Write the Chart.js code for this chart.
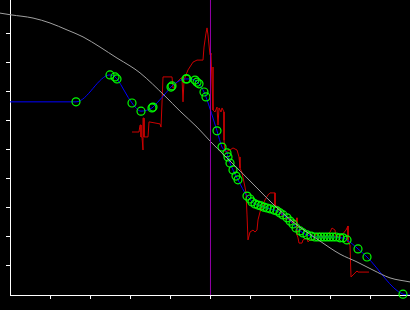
<!DOCTYPE html>
<html>
<head>
<meta charset="utf-8">
<script src="https://cdn.jsdelivr.net/npm/chart.js@4"></script>
<style>
  html, body { margin: 0; padding: 0; background: #000; }
  #wrap { width: 410px; height: 310px; background: #000; }
</style>
</head>
<body>
<div id="wrap"><canvas id="chart" width="410" height="310"></canvas></div>
<script>
// ─── Data ─────────────────────────────────────────────────────────────────────
// axis range: x 0..100, y 0..100 (top of plot a little above 100)
const X_MIN = 0, X_MAX = 100, Y_MIN = 0, Y_TOP = 101.72;
const TICK_STEP = 10;

// marker line (vertical)
const markX = 50.12;

// smooth reference curve (grey)
const grayX = [-2.5, 0.25, 5.75, 10, 14.25, 18.25, 22.5, 26.75, 30, 32.5, 38.75, 42.5, 46.75, 50,
  53.75, 57.5, 61.75, 66.25, 70.75, 77.5, 82.5, 86.75, 90.75, 95, 100];
const grayY = [97.2, 96.6, 95.5, 93.8, 91.4, 89.0, 85.5, 81.7, 79.0, 76.6, 68.6, 63.4, 57.9, 53.1,
  47.9, 42.8, 36.9, 30.7, 25.2, 18.6, 14.1, 11.4, 8.6, 5.9, 4.5];

// raw measurement (red)
const redX = [30.5, 32.25, 32.5, 32.75, 32.75, 33, 33.25, 33.25, 33.5, 33.5, 34.5, 34.75, 37.5, 37.75,
  38, 38.25, 40.5, 40.75, 41.25, 41.5, 42.75, 43, 43.25, 43.5, 44, 44.5, 45.75, 46.75, 48.25, 48.5,
  48.75, 49, 49.25, 49.5, 49.75, 50, 50.25, 50.5, 50.75, 50.75, 51.25, 51.75, 52, 52.25, 52.75, 53,
  53.5, 53.5, 53.75, 55, 55.75, 56.75, 57.25, 57.5, 58, 58.75, 59, 59.25, 59.5, 60, 60.75, 61.25,
  61.75, 62, 62.5, 63, 63.75, 64.5, 65, 66.25, 66.25, 67.25, 68.25, 69.25, 69.5, 70.5, 71, 71.5,
  71.75, 71.75, 72, 72.25, 73, 73.25, 74.25, 74.5, 75, 76, 76.25, 77.5, 78, 78.75, 80, 80.5, 81.25,
  81.5, 83, 84, 84.5, 84.5, 85, 85.25, 85.75, 86.75, 87, 89.75];
const redY = [56.2, 56.2, 58.6, 58.6, 54.5, 54.5, 50.0, 61.0, 61.0, 54.5, 54.5, 59.7, 59.0, 57.9,
  66.2, 75.2, 75.2, 71.4, 71.4, 73.1, 74.8, 74.8, 66.6, 74.1, 75.9, 77.6, 80.3, 81.0, 81.0, 85.5,
  87.9, 90.3, 92.1, 89.7, 86.2, 82.8, 83.4, 73.1, 78.6, 63.8, 63.1, 64.8, 58.6, 64.5, 63.1, 64.5,
  63.1, 53.4, 49.3, 50.0, 50.7, 50.0, 47.6, 43.8, 42.1, 37.2, 35.2, 27.6, 19.0, 21.7, 22.4, 21.7,
  22.4, 25.9, 28.6, 30.3, 32.8, 34.5, 35.2, 35.2, 31.0, 30.0, 26.6, 25.9, 26.9, 24.8, 25.9, 25.2,
  26.6, 20.7, 19.7, 17.9, 17.9, 19.0, 19.7, 18.3, 19.0, 19.0, 20.7, 21.4, 20.0, 20.0, 21.7, 23.1, 22.4,
  20.0, 20.7, 22.4, 23.8, 18.3, 17.2, 6.2, 6.9, 8.3, 7.9, 7.9];

// fitted points (circles) and the blue line through them
const fitX = [16.5, 25, 26.25, 26.75, 30.5, 32.75, 35.5, 35.75, 40.25, 40.5, 44, 44.25, 46.25, 46.75,
  47.25, 48.5, 49, 51.75, 53, 54.25, 54.5, 55, 55.75, 56.5, 57, 59.25, 60, 60.5, 61.25, 62, 62.75,
  63.5, 64.25, 65, 66, 66.75, 67.5, 68.25, 69.25, 70, 70.75, 71.5, 72.5, 73.25, 74.25, 75.25, 76.25,
  77, 77.75, 78.5, 79.25, 80, 80.75, 81.5, 82.5, 83.25, 84.25, 87, 89.25, 98.25];
const fitY = [66.6, 75.9, 75.2, 74.5, 66.2, 63.4, 64.5, 64.8, 71.7, 72.1, 74.5, 74.5, 74.1, 73.4,
  72.8, 70.0, 68.3, 56.6, 51.0, 49.0, 47.6, 45.5, 43.1, 41.0, 39.7, 34.1, 33.1, 32.1, 31.4, 31.0, 30.7,
  30.3, 30.0, 29.7, 29.3, 29.0, 28.3, 27.6, 26.6, 25.5, 24.5, 23.1, 22.1, 21.4, 20.7, 20.3, 20.0,
  20.0, 20.0, 20.0, 20.0, 20.0, 20.0, 20.0, 19.7, 19.7, 19.0, 15.9, 13.1, 0.3];
const leadX = [0], leadY = [66.6];
const tailX = [100], tailY = [0];

// ─── Helpers ──────────────────────────────────────────────────────────────────
const pts = (xs, ys) => xs.map((x, i) => ({ x, y: ys[i] }));
const innerTicks = (lo, hi) => scale => {
  scale.ticks = scale.ticks.filter(t => t.value > lo && t.value < hi);
};
const axis = (min, max, lo, hi) => ({
  type: 'linear', min, max,
  ticks: { display: false, stepSize: TICK_STEP },
  grid: { drawOnChartArea: false, color: '#ffffff', tickLength: 4, lineWidth: 1 },
  border: { display: true, color: '#ffffff', width: 1 },
  afterBuildTicks: innerTicks(lo, hi)
});

// ─── Chart ────────────────────────────────────────────────────────────────────
new Chart(document.getElementById('chart'), {
  type: 'scatter',
  data: {
    datasets: [
      {
        data: pts([markX, markX], [Y_MIN, Y_TOP]),
        showLine: true, borderColor: '#9400a8', borderWidth: 1, pointRadius: 0, clip: false
      },
      {
        data: pts(grayX, grayY),
        showLine: true, borderColor: '#a0a0a0', borderWidth: 1, pointRadius: 0,
        cubicInterpolationMode: 'monotone', clip: false
      },
      {
        data: pts(fitX, fitY),
        showLine: false, pointRadius: 4, pointBorderWidth: 1.2,
        pointBorderColor: '#00ff00', pointBackgroundColor: 'rgba(0,0,0,0)', clip: false
      },
      {
        data: pts([...leadX, ...fitX, ...tailX], [...leadY, ...fitY, ...tailY]),
        showLine: true, borderColor: '#0000ff', borderWidth: 1, pointRadius: 0,
        cubicInterpolationMode: 'monotone'
      },
      {
        data: pts(redX, redY),
        showLine: true, borderColor: '#cc0000', borderWidth: 1, pointRadius: 0
      }
    ]
  },
  options: {
    responsive: false, animation: false, devicePixelRatio: 1, events: [],
    layout: { autoPadding: false, padding: { left: 6, right: 0, top: 0, bottom: 11 } },
    plugins: { legend: { display: false }, tooltip: { enabled: false } },
    scales: {
      x: axis(X_MIN, X_MAX, X_MIN, X_MAX),
      y: axis(Y_MIN, Y_TOP, Y_MIN, 100)
    }
  }
});
</script>
</body>
</html>
